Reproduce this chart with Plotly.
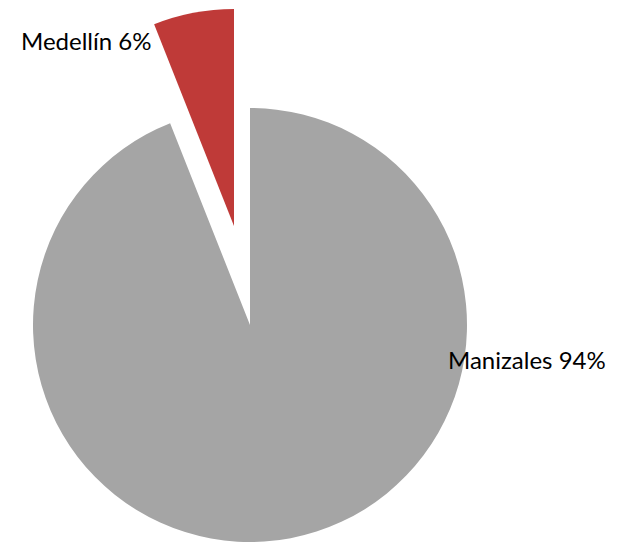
import plotly.graph_objects as go

# Data
cities = ["Manizales", "Medellín"]
values = [94, 6]
colors = ["#A5A5A5", "#BF3A38"]

W, H = 618, 546
OFF = 8          # page body margin added by the HTML page
R = 217
main_center = (250, 325)     # px, centre of the main pie
pulled_center = (234, 226)   # px, apex of the exploded slice


def domain(center):
    cx, cy = center[0] - OFF, center[1] - OFF
    return dict(x=[(cx - R) / W, (cx + R) / W],
                y=[1 - (cy + R) / H, 1 - (cy - R) / H])


total = sum(values)
transparent = "rgba(0,0,0,0)"

fig = go.Figure()
# Main pie: Manizales visible, Medellín slot left empty
fig.add_trace(go.Pie(
    labels=cities, values=values, sort=False, direction="clockwise", rotation=0,
    marker=dict(colors=[colors[0], transparent], line=dict(width=0)),
    textinfo="none", hoverinfo="skip", showlegend=False,
    domain=domain(main_center),
))
# Exploded slice: Medellín drawn offset
fig.add_trace(go.Pie(
    labels=cities, values=values, sort=False, direction="clockwise", rotation=0,
    marker=dict(colors=[transparent, colors[1]], line=dict(width=0)),
    textinfo="none", hoverinfo="skip", showlegend=False,
    domain=domain(pulled_center),
))

label_pos = {"Medellín": (19, 40), "Manizales": (446, 359)}
for city, v in zip(cities, values):
    px, py = label_pos[city]
    fig.add_annotation(
        x=(px - OFF) / W, y=1 - (py - OFF) / H, xref="paper", yref="paper",
        xanchor="left", yanchor="middle", showarrow=False,
        text=f"{city} {round(100 * v / total)}%",
        font=dict(family="Lato", size=24, color="#000000"),
    )

fig.update_layout(
    width=W, height=H, margin=dict(l=0, r=0, t=0, b=0),
    paper_bgcolor="white", plot_bgcolor="white",
)

fig.write_html("out.html")
